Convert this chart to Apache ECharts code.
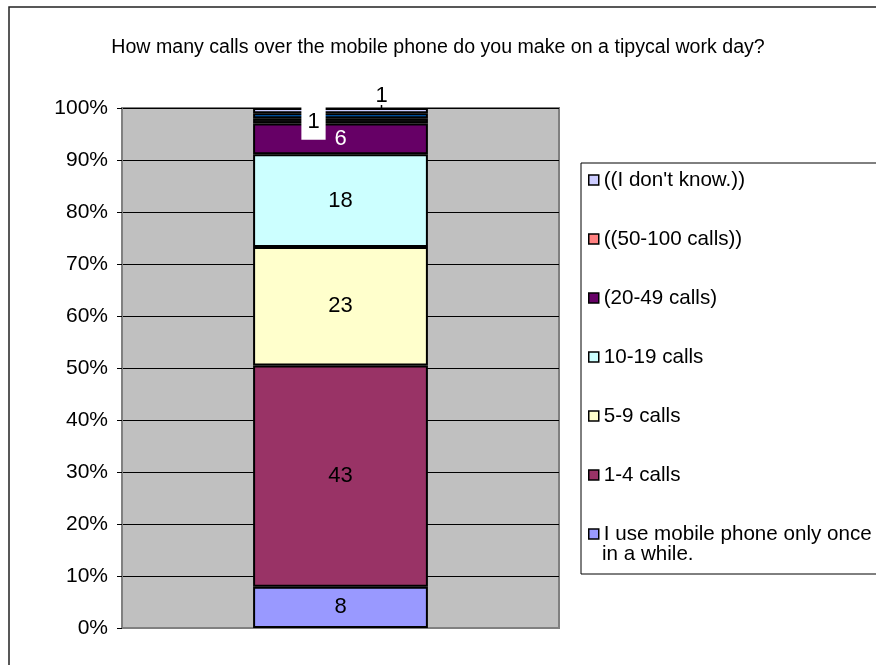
<!DOCTYPE html>
<html>
<head>
<meta charset="utf-8">
<script src="https://cdn.jsdelivr.net/npm/echarts@6/dist/echarts.min.js"></script>
<style>
  html, body { margin: 0; padding: 0; background: #ffffff; }
  #chart { width: 876px; height: 665px; }
</style>
</head>
<body>
<div id="chart"></div>
<script>
// Survey question and answers (respondent counts, stacked bottom to top)
const titleText = 'How many calls over the mobile phone do you make on a tipycal work day?';
const categories = [''];
const seriesNames = [
  'I use mobile phone only once in a while.',
  '1-4 calls',
  '5-9 calls',
  '10-19 calls',
  '(20-49 calls)',
  '((50-100 calls))',
  'Other',
  "((I don't know.))"
];
const seriesCounts = [8, 43, 23, 18, 6, 1, 1, 1];
const seriesColors = ['#9999FF', '#993366', '#FFFFCC', '#CCFFFF', '#660066', '#FF8080', '#0066CC', '#CCCCFF'];
const legendOrder = [
  "((I don't know.))",
  '((50-100 calls))',
  '(20-49 calls)',
  '10-19 calls',
  '5-9 calls',
  '1-4 calls',
  'I use mobile phone only once in a while.'
];
const yTickValues = [0, 10, 20, 30, 40, 50, 60, 70, 80, 90, 100];

const FONT = 'Liberation Sans, Arial, sans-serif';
const total = seriesCounts.reduce((a, b) => a + b, 0);
const share = c => c / total * 100;

const baseLabel = {
  show: true,
  position: 'inside',
  fontSize: 22,
  fontFamily: FONT,
  color: '#000',
  formatter: p => String(seriesCounts[p.seriesIndex])
};

const series = seriesNames.map((name, i) => {
  let label = Object.assign({}, baseLabel);
  let dataItem = { value: share(seriesCounts[i]) };
  if (name === '(20-49 calls)') label.color = '#ffffff';
  if (name === '((50-100 calls))') {
    Object.assign(label, { backgroundColor: '#ffffff', padding: [3, 6, 11, 6], offset: [-27, 1] });
    dataItem.itemStyle = { color: '#111111' };
  }
  if (name === 'Other') label = { show: false };
  if (name === "((I don't know.))") {
    label = {
      show: true,
      position: 'top',
      distance: 0,
      offset: [41, 0],
      formatter: p => '{v|' + seriesCounts[p.seriesIndex] + '}\n{l|}',
      rich: {
        v: { fontSize: 22, fontFamily: FONT, color: '#000', lineHeight: 18 },
        l: { width: 1.5, height: 3, backgroundColor: '#000' }
      }
    };
  }
  return {
    name: name,
    type: 'bar',
    stack: 'total',
    barWidth: '40%',
    data: [dataItem],
    itemStyle: { color: seriesColors[i], borderColor: '#000', borderWidth: 2 },
    label: label,
    emphasis: { disabled: true }
  };
});

const chart = echarts.init(document.getElementById('chart'), null, { renderer: 'canvas' });
chart.setOption({
  animation: false,
  backgroundColor: '#ffffff',
  title: {
    text: titleText,
    left: 'center',
    top: 38,
    padding: 0,
    textStyle: { fontSize: 19.6, fontWeight: 'normal', color: '#000', fontFamily: FONT }
  },
  legend: {
    orient: 'vertical',
    left: 581,
    top: 163,
    padding: [6, 60, 29, 7],
    itemGap: 37.0,
    itemWidth: 10,
    itemHeight: 10,
    icon: 'rect',
    backgroundColor: '#ffffff',
    borderColor: '#000',
    borderWidth: 1,
    borderRadius: 0,
    selectedMode: false,
    data: legendOrder,
    formatter: name => name === 'I use mobile phone only once in a while.' ? 'I use mobile phone only once' : name,
    itemStyle: { borderColor: '#000', borderWidth: 1.5 },
    textStyle: { fontSize: 20.6, lineHeight: 22, color: '#000', fontFamily: FONT }
  },
  graphic: [
    {
      type: 'rect',
      shape: { x: 9, y: 7, width: 900, height: 700 },
      style: { fill: 'none', stroke: '#222', lineWidth: 1.5 },
      silent: true
    },
    {
      type: 'text',
      style: { x: 602, y: 554, text: 'in a while.', fontSize: 20.6, fontFamily: FONT, fill: '#000', verticalAlign: 'middle' },
      z: 100,
      silent: true
    }
  ],
  grid: {
    left: 122,
    right: 317,
    top: 108,
    bottom: 37,
    show: true,
    backgroundColor: '#C0C0C0',
    borderColor: '#808080',
    borderWidth: 2,
    outerBoundsMode: 'none'
  },
  xAxis: {
    type: 'category',
    data: categories,
    axisLine: { show: true, lineStyle: { color: '#808080', width: 2 } },
    axisTick: { show: false },
    axisLabel: { show: false },
    splitLine: { show: false }
  },
  yAxis: {
    type: 'value',
    min: 0,
    max: 100,
    interval: 10,
    axisLine: { show: true, lineStyle: { color: '#808080', width: 2 } },
    axisTick: { show: true, inside: false, length: 5, lineStyle: { color: '#000', width: 1 } },
    axisLabel: {
      margin: 14,
      fontSize: 21,
      color: '#000',
      fontFamily: FONT,
      customValues: yTickValues,
      formatter: v => v + '%'
    },
    splitLine: { show: true, lineStyle: { color: '#000', width: 1 } }
  },
  series: series
});
</script>
</body>
</html>
